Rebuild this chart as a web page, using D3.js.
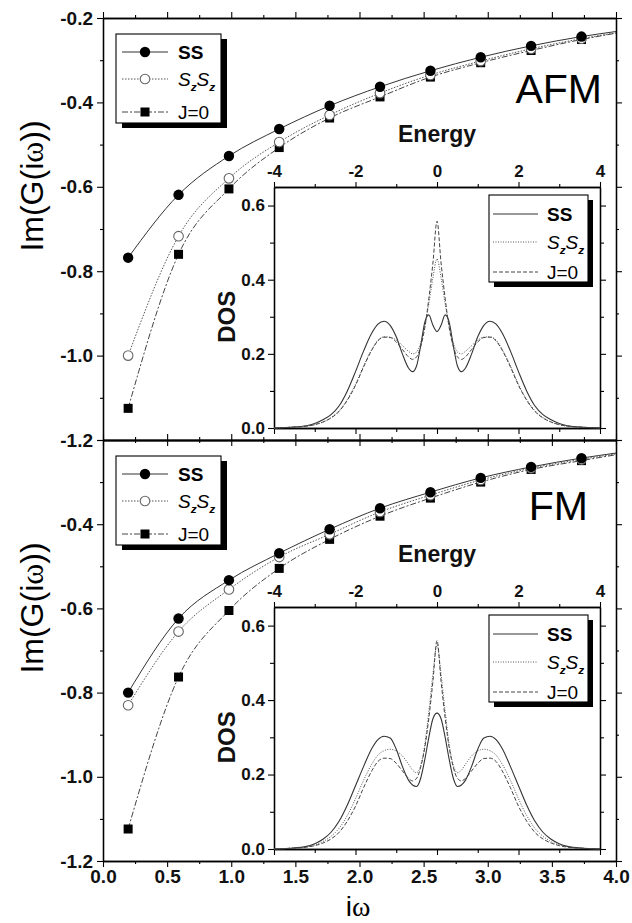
<!DOCTYPE html>
<html><head><meta charset="utf-8">
<script src="https://cdn.jsdelivr.net/npm/d3@7"></script>
<style>body{margin:0;background:#fff} svg{display:block}</style>
</head><body>
<svg id="c" width="632" height="923"></svg>
<script>
// ---------- data ----------
const omega = [0.196, 0.589, 0.982, 1.374, 1.767, 2.160, 2.553, 2.945, 3.338, 3.731];
const omegaEnd = 4.0;
const seriesNames = ["SS", "SzSz", "J=0"];
const afmSS   = [-0.768, -0.619, -0.527, -0.463, -0.408, -0.363, -0.325, -0.293, -0.266, -0.244];
const afmSzSz = [-1.000, -0.717, -0.580, -0.494, -0.430, -0.378, -0.335, -0.302, -0.273, -0.249];
const afmJ0   = [-1.125, -0.760, -0.605, -0.507, -0.437, -0.387, -0.340, -0.306, -0.277, -0.251];
const afmEnd  = [-0.232, -0.235, -0.236];
const fmSS    = [-0.800, -0.624, -0.533, -0.469, -0.412, -0.362, -0.324, -0.290, -0.264, -0.243];
const fmSzSz  = [-0.830, -0.655, -0.555, -0.478, -0.424, -0.371, -0.331, -0.295, -0.267, -0.246];
const fmJ0    = [-1.124, -0.763, -0.605, -0.505, -0.436, -0.381, -0.338, -0.300, -0.270, -0.249];
const fmEnd   = [-0.231, -0.233, -0.235];

const energy = [-4.0,-3.6,-3.2,-3.0,-2.8,-2.6,-2.4,-2.2,-2.0,-1.8,-1.6,-1.45,-1.3,-1.15,-1.0,-0.85,-0.7,-0.6,-0.5,-0.4,-0.3,-0.2,-0.1,
  0,
  0.1,0.2,0.3,0.4,0.5,0.6,0.7,0.85,1.0,1.15,1.3,1.45,1.6,1.8,2.0,2.2,2.4,2.6,2.8,3.0,3.2,3.6,4.0];
const dosAfmSS = [0.000,0.002,0.006,0.012,0.022,0.036,0.060,0.100,0.152,0.208,0.256,0.280,0.288,0.277,0.246,0.200,0.162,0.152,0.168,0.222,0.285,0.305,0.277,
  0.260,
  0.277,0.305,0.285,0.222,0.168,0.152,0.162,0.200,0.246,0.277,0.288,0.280,0.256,0.208,0.152,0.100,0.060,0.036,0.022,0.012,0.006,0.002,0.000];
const dosAfmSzSz = [0.000,0.002,0.005,0.009,0.016,0.028,0.047,0.077,0.118,0.168,0.212,0.237,0.246,0.245,0.237,0.222,0.207,0.200,0.205,0.230,0.275,0.335,0.405,
  0.456,
  0.405,0.335,0.275,0.230,0.205,0.200,0.207,0.222,0.237,0.245,0.246,0.237,0.212,0.168,0.118,0.077,0.047,0.028,0.016,0.009,0.005,0.002,0.000];
const dosAfmJ0 = [0.000,0.002,0.005,0.009,0.016,0.027,0.045,0.075,0.115,0.165,0.210,0.235,0.245,0.244,0.232,0.212,0.192,0.185,0.192,0.220,0.270,0.350,0.445,
  0.558,
  0.445,0.350,0.270,0.220,0.192,0.185,0.192,0.212,0.232,0.244,0.245,0.235,0.210,0.165,0.115,0.075,0.045,0.027,0.016,0.009,0.005,0.002,0.000];
const dosFmSS = [0.000,0.002,0.007,0.014,0.026,0.045,0.075,0.118,0.170,0.222,0.270,0.294,0.303,0.298,0.268,0.222,0.185,0.172,0.168,0.190,0.240,0.300,0.350,
  0.365,
  0.350,0.300,0.240,0.190,0.168,0.172,0.185,0.222,0.268,0.298,0.303,0.294,0.270,0.222,0.170,0.118,0.075,0.045,0.026,0.014,0.007,0.002,0.000];
const dosFmSzSz = [0.000,0.002,0.006,0.011,0.020,0.034,0.056,0.090,0.135,0.185,0.228,0.252,0.264,0.268,0.263,0.250,0.228,0.212,0.205,0.225,0.280,0.370,0.470,
  0.548,
  0.470,0.370,0.280,0.225,0.205,0.212,0.228,0.250,0.263,0.268,0.264,0.252,0.228,0.185,0.135,0.090,0.056,0.034,0.020,0.011,0.006,0.002,0.000];
const dosFmJ0 = [0.000,0.002,0.005,0.009,0.016,0.027,0.045,0.075,0.115,0.165,0.210,0.235,0.244,0.243,0.230,0.210,0.190,0.183,0.190,0.220,0.272,0.352,0.450,
  0.560,
  0.450,0.352,0.272,0.220,0.190,0.183,0.190,0.210,0.230,0.243,0.244,0.235,0.210,0.165,0.115,0.075,0.045,0.027,0.016,0.009,0.005,0.002,0.000];

const mainYTicks = [-1.2, -1.0, -0.8, -0.6, -0.4, -0.2];
const mainYMinor = [-1.1, -0.9, -0.7, -0.5, -0.3];
const mainXTicks = [0, 0.5, 1.0, 1.5, 2.0, 2.5, 3.0, 3.5, 4.0];
const mainXMinor = [0.25, 0.75, 1.25, 1.75, 2.25, 2.75, 3.25, 3.75];
const insetXTicks = [-4, -2, 0, 2, 4];
const insetXMinor = [-3, -1, 1, 3];
const insetYTicks = [0, 0.2, 0.4, 0.6];
const insetYMinor = [0.1, 0.3, 0.5];

// ---------- drawing ----------
const svg = d3.select("#c");
const FONT = "'Liberation Sans', Arial, Helvetica, sans-serif";
svg.append("rect").attr("width", 632).attr("height", 923).attr("fill", "#fff");

const x = d3.scaleLinear().domain([0, 4]).range([103, 616]);

const panels = [
  { top: 18, bottom: 440, name: "AFM", nameX: 602, nameDy: 85, vals: [afmSS, afmSzSz, afmJ0], ends: afmEnd,
    insetTop: 187, insetBottom: 428, dos: [dosAfmSS, dosAfmSzSz, dosAfmJ0], skipTop: false, xLabels: false },
  { top: 440, bottom: 861, name: "FM", nameX: 588, nameDy: 80, vals: [fmSS, fmSzSz, fmJ0], ends: fmEnd,
    insetTop: 607, insetBottom: 849, dos: [dosFmSS, dosFmSzSz, dosFmJ0], skipTop: true, xLabels: true }
];

const mainStyles = [
  { stroke: "#333", dash: null, width: 1 },
  { stroke: "#555", dash: "1.5,1.5", width: 1 },
  { stroke: "#444", dash: "6,2,2,2", width: 1 }
];
const insetStyles = [
  { stroke: "#333", dash: null, width: 1.1 },
  { stroke: "#555", dash: "1,1.5", width: 1 },
  { stroke: "#444", dash: "4,2", width: 1 }
];

function styleAxis(g, fs, weight) {
  g.selectAll("path.domain").attr("stroke", "#000").attr("stroke-width", 1.3);
  g.selectAll(".tick line").attr("stroke", "#000").attr("stroke-width", 1.1);
  g.selectAll(".tick text").attr("font-family", FONT).attr("font-size", fs)
    .attr("font-weight", weight).attr("fill", "#111");
}

function drawMarker(g, kind, cx, cy) {
  if (kind === 0) {
    g.append("circle").attr("cx", cx).attr("cy", cy).attr("r", 5.2).attr("fill", "#000");
  } else if (kind === 1) {
    g.append("circle").attr("cx", cx).attr("cy", cy).attr("r", 4.8).attr("fill", "#fff")
      .attr("stroke", "#666").attr("stroke-width", 1.1);
  } else {
    g.append("rect").attr("x", cx - 4.5).attr("y", cy - 4.5).attr("width", 9).attr("height", 9).attr("fill", "#000");
  }
}

function legendLabel(g, i, tx, ty, fs) {
  const t = g.append("text").attr("x", tx).attr("y", ty).attr("font-family", FONT)
    .attr("font-size", fs).attr("fill", "#000");
  if (i === 0) {
    t.attr("font-weight", "bold").text("SS");
  } else if (i === 1) {
    t.append("tspan").attr("font-style", "italic").text("S");
    t.append("tspan").attr("font-style", "italic").attr("font-weight", "bold").attr("font-size", fs * 0.62).attr("dy", 5).text("z");
    t.append("tspan").attr("font-style", "italic").attr("dy", -5).text("S");
    t.append("tspan").attr("font-style", "italic").attr("font-weight", "bold").attr("font-size", fs * 0.62).attr("dy", 5).text("z");
  } else {
    t.text("J=0");
  }
}

panels.forEach(p => {
  const y = d3.scaleLinear().domain([-1.2, -0.2]).range([p.bottom, p.top]);
  const g = svg.append("g");

  // frame axes - minor ticks
  g.append("g").attr("transform", `translate(${x(0)},0)`)
    .call(d3.axisLeft(y).tickValues(mainYMinor).tickSize(3).tickSizeOuter(0).tickFormat(""))
    .call(a => styleAxis(a, 19, "bold"));
  g.append("g").attr("transform", `translate(${x(4)},0)`)
    .call(d3.axisRight(y).tickValues(mainYMinor).tickSize(3).tickSizeOuter(0).tickFormat(""))
    .call(a => styleAxis(a, 19, "bold"));
  g.append("g").attr("transform", `translate(0,${p.top})`)
    .call(d3.axisTop(x).tickValues(mainXMinor).tickSize(3).tickSizeOuter(0).tickFormat(""))
    .call(a => styleAxis(a, 19, "bold"));
  g.append("g").attr("transform", `translate(0,${p.bottom})`)
    .call(d3.axisBottom(x).tickValues(mainXMinor).tickSize(3).tickSizeOuter(0).tickFormat(""))
    .call(a => styleAxis(a, 19, "bold"));
  // major ticks
  g.append("g").attr("transform", `translate(${x(0)},0)`)
    .call(d3.axisLeft(y).tickValues(mainYTicks).tickSize(6).tickPadding(4).tickSizeOuter(0)
      .tickFormat(d => (p.skipTop && d === -0.2) ? "" : d.toFixed(1)))
    .call(a => styleAxis(a, 19, "bold"));
  g.append("g").attr("transform", `translate(${x(4)},0)`)
    .call(d3.axisRight(y).tickValues(mainYTicks).tickSize(6).tickSizeOuter(0).tickFormat(""))
    .call(a => styleAxis(a, 19, "bold"));
  g.append("g").attr("transform", `translate(0,${p.top})`)
    .call(d3.axisTop(x).tickValues(mainXTicks).tickSize(6).tickSizeOuter(0).tickFormat(""))
    .call(a => styleAxis(a, 19, "bold"));
  g.append("g").attr("transform", `translate(0,${p.bottom})`)
    .call(d3.axisBottom(x).tickValues(mainXTicks).tickSize(6).tickPadding(3).tickSizeOuter(0)
      .tickFormat(d => p.xLabels ? d.toFixed(1) : ""))
    .call(a => styleAxis(a, 19, "bold"));

  // y title
  const yt = g.append("text")
    .attr("transform", `translate(43,${p.top + 168}) rotate(-90)`)
    .attr("text-anchor", "middle").attr("font-family", FONT).attr("font-size", 32).attr("fill", "#000");
  yt.append("tspan").text("Im(G(i");
  yt.append("tspan").attr("font-family", "'Liberation Serif', 'DejaVu Serif', serif").text("ω");
  yt.append("tspan").text("))");

  // panel label
  g.append("text").attr("x", p.nameX).attr("y", p.top + p.nameDy).attr("text-anchor", "end")
    .attr("font-family", FONT).attr("font-size", 41).attr("fill", "#000").text(p.name);

  // main curves
  const line = d3.line().x(d => x(d[0])).y(d => y(d[1])).curve(d3.curveMonotoneX);
  p.vals.forEach((vals, i) => {
    const pts = omega.map((w, k) => [w, vals[k]]);
    pts.push([omegaEnd, p.ends[i]]);
    const s = mainStyles[i];
    g.append("path").datum(pts).attr("d", line).attr("fill", "none")
      .attr("stroke", s.stroke).attr("stroke-width", s.width)
      .attr("stroke-dasharray", s.dash);
  });
  [2, 1, 0].forEach(i => {
    p.vals[i].forEach((v, k) => drawMarker(g, i, x(omega[k]), y(v)));
  });

  // main legend
  const lx = 116, ly = p.top + 16, lw = 105, lh = 89;
  const lg = g.append("g");
  lg.append("rect").attr("x", lx + 6).attr("y", ly + 5).attr("width", lw).attr("height", lh).attr("fill", "#000");
  lg.append("rect").attr("x", lx).attr("y", ly).attr("width", lw).attr("height", lh)
    .attr("fill", "#fff").attr("stroke", "#000").attr("stroke-width", 1.1);
  const rowsMain = [18, 45, 78];
  seriesNames.forEach((nm, i) => {
    const ry = ly + rowsMain[i];
    const s = mainStyles[i];
    lg.append("line").attr("x1", lx + 6).attr("x2", lx + 52).attr("y1", ry).attr("y2", ry)
      .attr("stroke", s.stroke).attr("stroke-width", s.width).attr("stroke-dasharray", s.dash);
    drawMarker(lg, i, lx + 29, ry);
    legendLabel(lg, i, lx + 62, ry + 7, 19);
  });

  // ---------- inset ----------
  const ix = d3.scaleLinear().domain([-4, 4]).range([274, 600]);
  const iy = d3.scaleLinear().domain([0, 0.65]).range([p.insetBottom, p.insetTop]);
  const ig = g.append("g");
  ig.append("rect").attr("x", 274).attr("y", p.insetTop).attr("width", 326)
    .attr("height", p.insetBottom - p.insetTop).attr("fill", "#fff");

  ig.append("g").attr("transform", "translate(274,0)")
    .call(d3.axisLeft(iy).tickValues(insetYMinor).tickSize(4).tickSizeOuter(0).tickFormat(""))
    .call(a => styleAxis(a, 17, "bold"));
  ig.append("g").attr("transform", "translate(274,0)")
    .call(d3.axisLeft(iy).tickValues(insetYTicks).tickSize(6).tickPadding(3).tickSizeOuter(0).tickFormat(d => d.toFixed(1)))
    .call(a => styleAxis(a, 17, "bold"));
  ig.append("g").attr("transform", "translate(600,0)")
    .call(d3.axisRight(iy).tickValues(insetYMinor).tickSize(4).tickSizeOuter(0).tickFormat(""))
    .call(a => styleAxis(a, 17, "bold"));
  ig.append("g").attr("transform", "translate(600,0)")
    .call(d3.axisRight(iy).tickValues(insetYTicks).tickSize(6).tickSizeOuter(0).tickFormat(""))
    .call(a => styleAxis(a, 17, "bold"));
  ig.append("g").attr("transform", `translate(0,${p.insetBottom})`)
    .call(d3.axisBottom(ix).tickValues(insetXMinor).tickSize(4).tickSizeOuter(0).tickFormat(""))
    .call(a => styleAxis(a, 17, "bold"));
  ig.append("g").attr("transform", `translate(0,${p.insetBottom})`)
    .call(d3.axisBottom(ix).tickValues(insetXTicks).tickSize(6).tickSizeOuter(0).tickFormat(""))
    .call(a => styleAxis(a, 17, "bold"));
  ig.append("g").attr("transform", `translate(0,${p.insetTop})`)
    .call(d3.axisTop(ix).tickValues(insetXMinor).tickSize(3).tickSizeOuter(0).tickFormat(""))
    .call(a => styleAxis(a, 17, "bold"));
  ig.append("g").attr("transform", `translate(0,${p.insetTop})`)
    .call(d3.axisTop(ix).tickValues(insetXTicks).tickSize(5).tickPadding(5).tickSizeOuter(0).tickFormat(d => d3.format("d")(d).replace("\u2212", "-")))
    .call(a => styleAxis(a, 17, "bold"));

  ig.append("text").attr("x", 437).attr("y", p.insetTop - 45).attr("text-anchor", "middle")
    .attr("font-family", FONT).attr("font-size", 23).attr("font-weight", "bold").attr("fill", "#111").text("Energy");
  ig.append("text").attr("transform", `translate(235,${iy(0.3)}) rotate(-90)`).attr("text-anchor", "middle")
    .attr("font-family", FONT).attr("font-size", 24).attr("font-weight", "bold").attr("fill", "#111").text("DOS");

  const iline = d3.line().x(d => ix(d[0])).y(d => iy(d[1])).curve(d3.curveMonotoneX);
  p.dos.forEach((vals, i) => {
    const s = insetStyles[i];
    ig.append("path").datum(energy.map((e, k) => [e, vals[k]])).attr("d", iline).attr("fill", "none")
      .attr("stroke", s.stroke).attr("stroke-width", s.width).attr("stroke-dasharray", s.dash);
  });

  // inset legend
  const ilx = 489, ily = p.insetTop + 8, ilw = 99, ilh = 87;
  const il = ig.append("g");
  il.append("rect").attr("x", ilx + 5).attr("y", ily + 5).attr("width", ilw).attr("height", ilh).attr("fill", "#000");
  il.append("rect").attr("x", ilx).attr("y", ily).attr("width", ilw).attr("height", ilh)
    .attr("fill", "#fff").attr("stroke", "#000").attr("stroke-width", 1.1);
  const rowsIn = [19, 47, 77];
  seriesNames.forEach((nm, i) => {
    const ry = ily + rowsIn[i];
    const s = insetStyles[i];
    il.append("line").attr("x1", ilx + 4).attr("x2", ilx + 49).attr("y1", ry).attr("y2", ry)
      .attr("stroke", s.stroke).attr("stroke-width", s.width).attr("stroke-dasharray", s.dash);
    legendLabel(il, i, ilx + 58, ry + 7, 19);
  });
});

// x title
const xt = svg.append("text").attr("x", 358).attr("y", 916).attr("text-anchor", "middle")
  .attr("font-family", FONT).attr("font-size", 28).attr("fill", "#000");
xt.append("tspan").text("i");
xt.append("tspan").attr("font-family", "'Liberation Serif', 'DejaVu Serif', serif").text("ω");
</script>
</body></html>
